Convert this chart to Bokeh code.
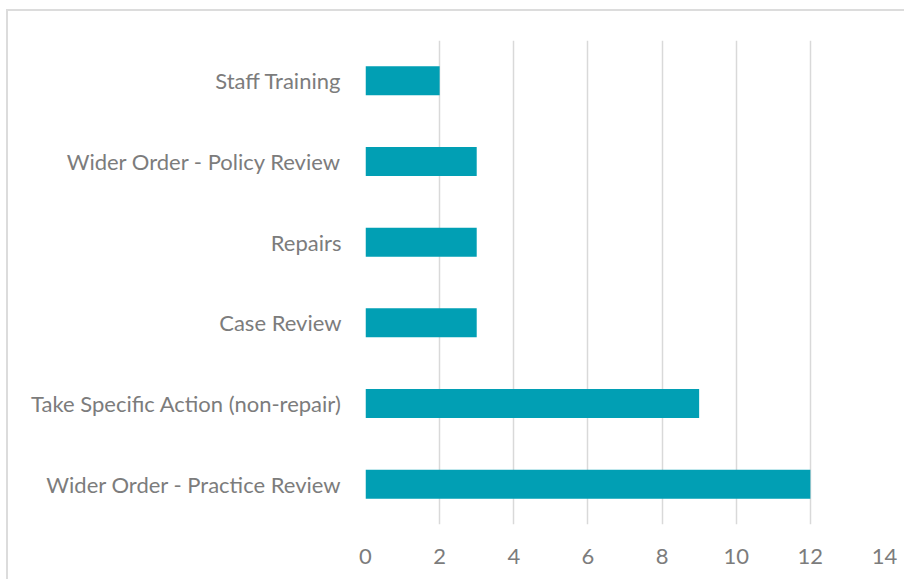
from bokeh.plotting import figure
from bokeh.models import Range1d, FactorRange, SingleIntervalTicker
from bokeh.embed import file_html
from bokeh.resources import INLINE

categories = [
    "Wider Order - Practice Review",
    "Take Specific Action (non-repair)",
    "Case Review",
    "Repairs",
    "Wider Order - Policy Review",
    "Staff Training",
]
values = [12, 9, 3, 3, 3, 2]

FONT = "Lato"
TXT = "#7c7c7c"

# figure placed at (8, 11) inside a bordered box starting at (6, 9)
p = figure(width=904, height=568, output_backend="svg", toolbar_location=None,
           x_range=Range1d(0, 14), y_range=FactorRange(*categories, range_padding=0),
           min_border_left=357, min_border_right=20, min_border_top=29, min_border_bottom=55)
p.frame_width = 519
p.frame_height = 484
p.styles = {"margin-left": "6px", "margin-top": "9px",
            "border-left": "2px solid #dcdcdc", "border-top": "2px solid #dcdcdc"}

p.hbar(y=categories, right=values, left=0, height=0.36, color="#019FB4", line_color=None)

p.outline_line_color = None
p.ygrid.grid_line_color = None
p.xgrid.grid_line_color = "#d9d9d9"
p.xgrid.grid_line_width = 1.5
p.xaxis.ticker = SingleIntervalTicker(interval=2)

for ax in (p.xaxis[0], p.yaxis[0]):
    ax.axis_line_color = None
    ax.major_tick_line_color = None
    ax.minor_tick_line_color = None
    ax.major_label_text_font = FONT
    ax.major_label_text_color = TXT
    ax.major_label_text_font_size = "22px"
p.xaxis.major_label_standoff = 18
p.yaxis.major_label_standoff = 18

open("out.html", "w").write(file_html(p, INLINE))
